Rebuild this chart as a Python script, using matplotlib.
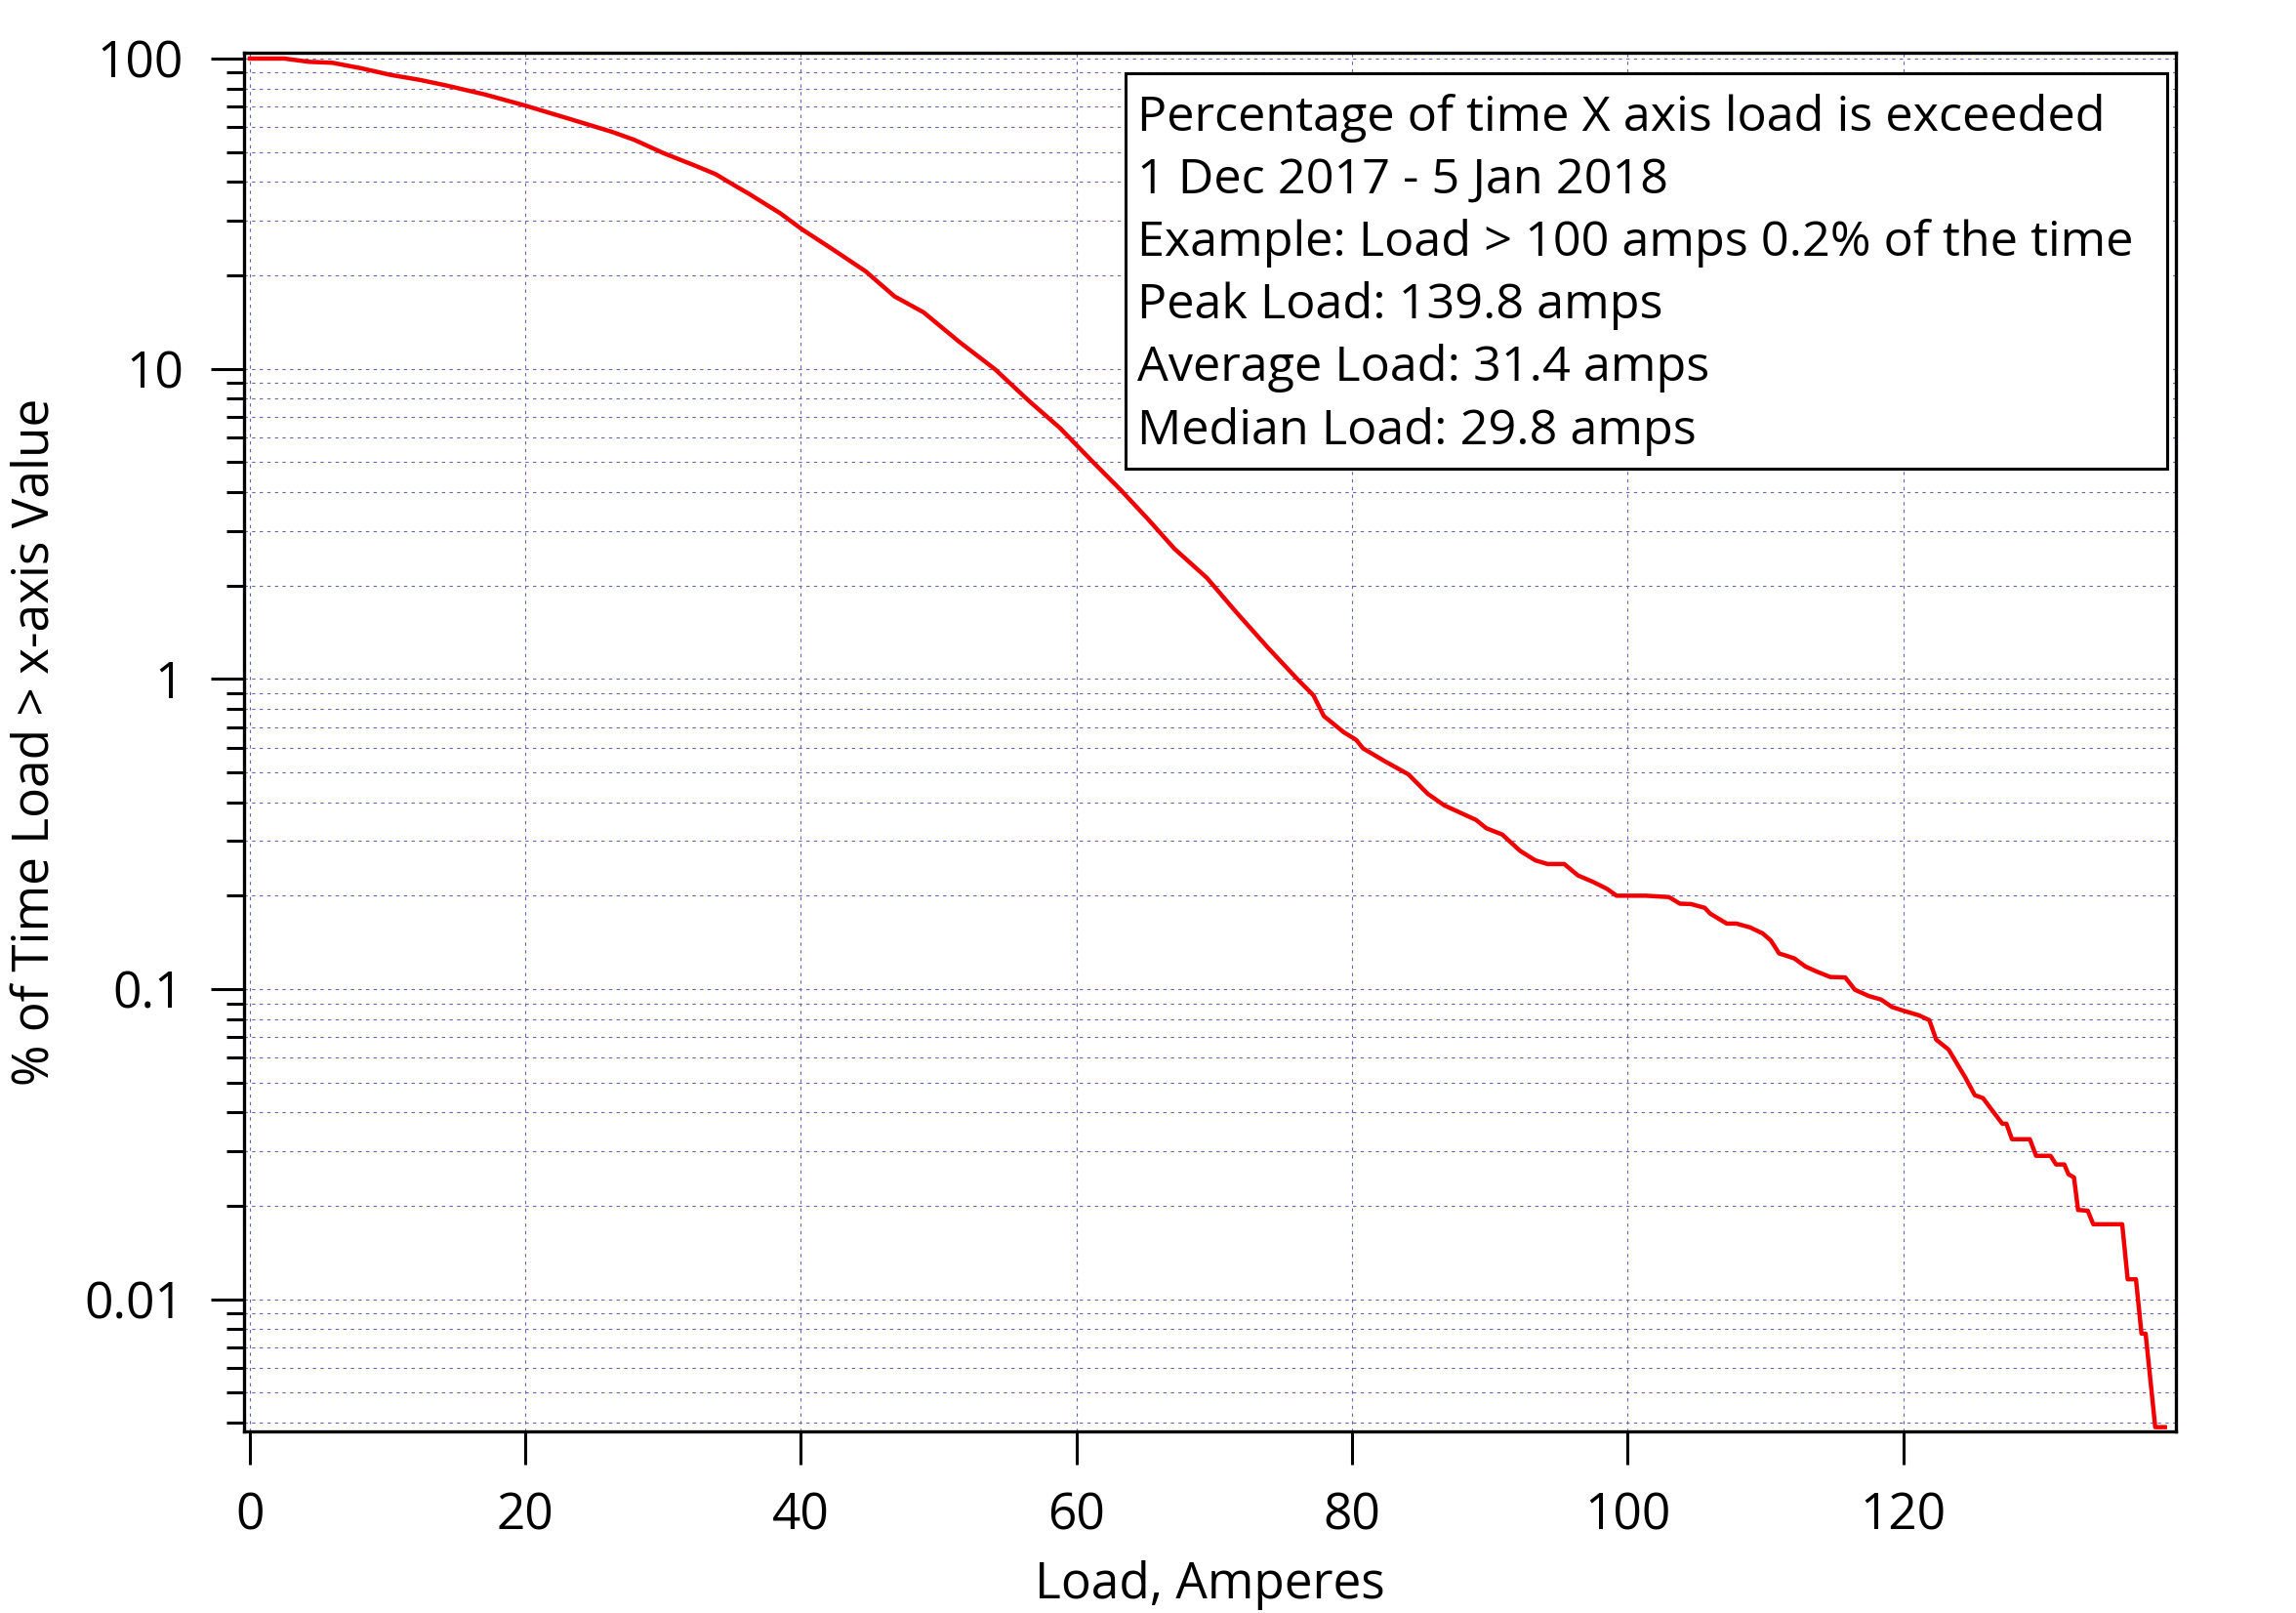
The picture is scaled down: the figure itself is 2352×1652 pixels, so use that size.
import matplotlib
matplotlib.use("Agg")
import matplotlib.pyplot as plt
from matplotlib.ticker import FixedLocator, FixedFormatter, LogLocator, NullFormatter
from matplotlib.patches import Rectangle

# exceedance curve: load (A) vs % of time exceeded
load_amps = [
    0.0, 2.5, 4.3, 6.0, 8.1, 10.2, 12.3, 14.2, 17.05, 20.0,
    23.2, 26.25, 27.9, 30.0, 32.4, 33.8, 35.0, 36.2, 38.5, 40.1,
    42.1, 44.7, 46.8, 48.9, 51.5, 54.1, 56.5, 58.8, 61.2, 63.2,
    65.2, 67.1, 69.45, 71.6, 73.9, 76.1, 77.2, 77.95, 79.4, 80.3,
    80.8, 82.4, 84.1, 85.5, 86.7, 89.0, 89.75, 90.9, 92.2, 93.3,
    94.2, 95.4, 96.4, 97.5, 98.5, 99.2, 101.3, 103.0, 103.8, 104.6,
    105.6, 106.0, 107.2, 107.9, 108.9, 109.8, 110.4, 111.0, 112.1, 112.9,
    113.7, 114.7, 115.8, 116.5, 117.5, 118.4, 119.2, 120.0, 121.15, 121.9,
    122.4, 123.3, 124.5, 125.2, 125.8, 126.6, 127.2, 127.5, 127.9, 129.2,
    129.65, 130.7, 131.1, 131.7, 132.0, 132.4, 132.7, 133.4, 133.8, 135.9,
    136.3, 136.9, 137.3, 137.6, 138.3, 139.0,
]
pct_time = [
    100, 100, 97.6, 96.9, 93.0, 88.6, 85.4, 82.0, 76.6, 70.5,
    63.9, 58.1, 54.7, 49.6, 45.0, 42.4, 39.4, 36.7, 31.7, 28.1,
    24.6, 20.6, 17.1, 15.2, 12.2, 9.95, 7.91, 6.44, 5.0, 4.07,
    3.27, 2.63, 2.12, 1.64, 1.26, 0.991, 0.885, 0.759, 0.673, 0.636,
    0.597, 0.542, 0.492, 0.426, 0.391, 0.351, 0.33, 0.315, 0.279, 0.260,
    0.253, 0.253, 0.2325, 0.2215, 0.2105, 0.200, 0.200, 0.198, 0.1885, 0.188,
    0.1828, 0.175, 0.1626, 0.1626, 0.158, 0.1512, 0.1434, 0.1303, 0.1256, 0.1183,
    0.114, 0.1094, 0.1090, 0.0995, 0.095, 0.0925, 0.0875, 0.0852, 0.0823, 0.0794,
    0.0687, 0.0638, 0.052, 0.0455, 0.0445, 0.0399, 0.0368, 0.0368, 0.0328, 0.0328,
    0.029, 0.029, 0.0272, 0.0272, 0.0253, 0.0247, 0.0194, 0.0193, 0.01745, 0.01745,
    0.0116, 0.0116, 0.00775, 0.00775, 0.00387, 0.00387,
]

x_ticks = [0, 20, 40, 60, 80, 100, 120]
y_ticks = [0.01, 0.1, 1, 10, 100]
y_tick_labels = ["0.01", "0.1", "1", "10", "100"]

info_lines = [
    "Percentage of time X axis load is exceeded",
    "1 Dec 2017 - 5 Jan 2018",
    "Example: Load > 100 amps 0.2% of the time",
    "Peak Load: 139.8 amps",
    "Average Load: 31.4 amps",
    "Median Load: 29.8 amps",
]

plt.rcParams['font.family'] = ['Open Sans', 'DejaVu Sans']
FS = 37
grid_kw = dict(color='#6464b4', linewidth=0.8, linestyle=(0, (3, 4)))

fig = plt.figure(figsize=(23.52, 16.52), dpi=100)
ax = fig.add_axes([0.1063, 0.1126, 0.8414, 0.8547])

ax.plot(load_amps, pct_time, color='#f00000', linewidth=3.2, zorder=3)

ax.set_yscale('log')
ax.set_xlim(-0.42, 139.8)
ax.set_ylim(0.00375, 104.4)

ax.xaxis.set_major_locator(FixedLocator(x_ticks))
ax.yaxis.set_major_locator(FixedLocator(y_ticks))
ax.yaxis.set_major_formatter(FixedFormatter(y_tick_labels))
ax.yaxis.set_minor_locator(LogLocator(base=10, subs=range(2, 10)))
ax.yaxis.set_minor_formatter(NullFormatter())

ax.grid(True, which='major', axis='x', **grid_kw)
ax.grid(True, which='both', axis='y', **grid_kw)

for s in ax.spines.values():
    s.set_linewidth(2.4)
ax.tick_params(which='major', length=24.5, width=2.2, labelsize=FS, pad=20)
ax.tick_params(which='minor', length=13, width=2.2)

ax.set_xlabel('Load, Amperes', fontsize=FS, labelpad=14)
ax.set_ylabel('% of Time Load > x-axis Value', fontsize=FS, labelpad=18)

# info box in the upper right
ax.add_patch(Rectangle((0.4565, 0.6983), 0.539, 0.2868, transform=ax.transAxes,
                       facecolor='white', edgecolor='black', linewidth=2.2, zorder=4))
for i, line in enumerate(info_lines):
    ax.text(0.4626, 0.9437 - i * 0.04547, line, transform=ax.transAxes,
            fontsize=36.3, va='baseline', ha='left', zorder=5)

fig.savefig('out.png', dpi=100)
